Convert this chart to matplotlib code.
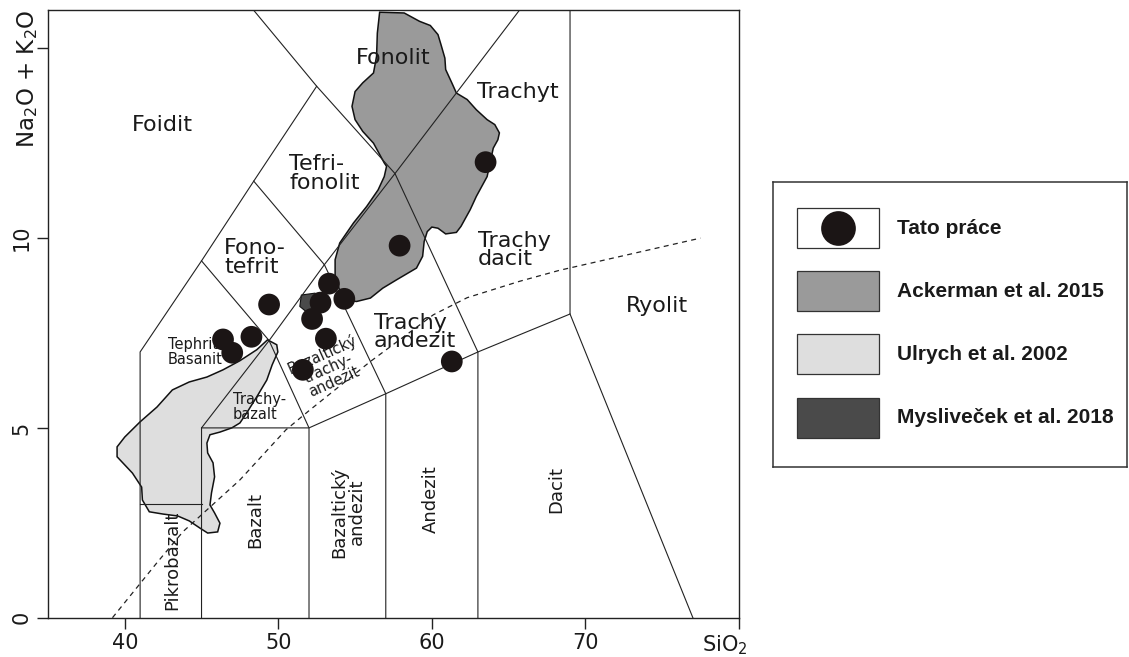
import matplotlib.pyplot as plt
from matplotlib.patches import Polygon, Rectangle
from matplotlib.transforms import blended_transform_factory

# --- data ------------------------------------------------------------------
# Tato práce (this work): SiO2 vs Na2O + K2O
sio2 = [63.5, 57.9, 49.4, 53.3, 52.75, 54.3, 52.2, 53.1, 51.6, 48.25, 46.4, 47.0, 61.3]
alkali = [12.0, 9.8, 8.25, 8.8, 8.3, 8.4, 7.87, 7.35, 6.53, 7.4, 7.33, 6.98, 6.75]

# Ackerman et al. 2015 field
ackerman_x = [56.6, 58.2, 59.2, 59.9, 60.4, 60.6, 60.85, 60.9, 61.3, 61.6, 62.3, 62.9,
              63.6, 64.1, 64.4, 64.3, 64.0, 63.6, 62.9, 62.5, 61.9, 61.6, 60.9, 60.4,
              60.0, 59.7, 59.5, 59.4, 59.0, 57.7, 56.8, 56.0, 55.1, 54.2, 53.7, 53.7,
              54.0, 54.9, 55.75, 56.5, 56.9, 57.05, 56.9, 56.2, 55.5, 55.0, 54.8, 55.0,
              55.5, 56.2, 56.4, 56.45]
ackerman_y = [15.95, 15.93, 15.71, 15.6, 15.36, 15.09, 14.74, 14.44, 14.09, 13.82, 13.65,
              13.38, 13.12, 12.99, 12.77, 12.59, 12.37, 11.62, 11.1, 10.75, 10.31, 10.15,
              10.11, 10.26, 10.29, 10.17, 9.91, 9.52, 9.21, 8.9, 8.68, 8.42, 8.33, 8.37,
              8.99, 9.43, 9.87, 10.4, 10.83, 11.27, 11.62, 11.89, 11.98, 12.5, 12.81,
              13.12, 13.47, 13.86, 14.09, 14.35, 14.79, 15.4]

# Ulrych et al. 2002 field
ulrych_x = [49.3, 49.9, 49.97, 49.6, 49.25, 48.6, 47.95, 47.5, 46.97, 46.2, 45.55, 45.35,
            45.4, 45.75, 45.85, 45.65, 45.55, 45.85, 46.2, 46.05, 45.4, 44.9, 44.2, 43.45,
            42.5, 41.6, 41.15, 41.1, 40.5, 39.5, 39.5, 40.0, 41.0, 42.1, 43.1, 44.2, 45.35,
            46.4, 47.5, 48.6]
ulrych_y = [7.32, 7.19, 7.0, 6.66, 6.26, 5.82, 5.4, 5.13, 5.0, 4.89, 4.82, 4.6, 4.34, 4.08,
            3.71, 3.29, 2.97, 2.76, 2.49, 2.26, 2.23, 2.36, 2.55, 2.68, 2.73, 2.79, 3.1, 3.44,
            3.81, 4.24, 4.5, 4.76, 5.16, 5.55, 6.0, 6.21, 6.34, 6.53, 6.77, 7.06]

# Mysliveček et al. 2018 field
myslivecek_x = [51.5, 52.4, 52.6, 52.0, 51.4]
myslivecek_y = [8.5, 8.55, 8.2, 8.0, 8.2]

# alkaline / subalkaline divide (dashed)
divide_x = [39.2, 42.1, 43.8, 47.5, 50.5, 52.05, 56.0, 60.1, 62.3, 65.7, 68.3, 77.5]
divide_y = [0.0, 1.45, 2.27, 3.63, 4.95, 5.47, 6.75, 7.98, 8.43, 8.86, 9.15, 10.0]

# TAS field boundaries
tas_lines = [
    ([41, 41, 45, 48.4, 52.5, 48.4], [0, 7, 9.4, 11.5, 14, 16]),
    ([52.5, 57.6, 63, 63], [14, 11.7, 7, 0]),
    ([41, 45], [3, 3]),
    ([45, 45, 49.4, 45], [0, 5, 7.3, 9.4]),
    ([45, 52, 57, 63, 69, 69], [5, 5, 5.9, 7, 8, 16]),
    ([52, 52, 49.4, 53, 48.4], [0, 5, 7.3, 9.3, 11.5]),
    ([53, 57.6, 65.7], [9.3, 11.7, 16]),
    ([57, 57, 53], [0, 5.9, 9.3]),
    ([69, 77], [8, 0]),
]

legend_labels = ['Tato práce', 'Ackerman et al. 2015', 'Ulrych et al. 2002',
                 'Mysliveček et al. 2018']
c_dot = '#1b1515'
c_ack = '#9a9a9a'
c_ulr = '#dedede'
c_mys = '#4a4a4a'
c_line = '#222222'

fig = plt.figure(figsize=(11.29, 6.57), dpi=100)
ax = fig.add_axes([0.0425, 0.0598, 0.6120, 0.9245])
ax.set_xlim(35, 80)
ax.set_ylim(0, 16)

# fields
ax.add_patch(Polygon(list(zip(ulrych_x, ulrych_y)), closed=True, fc=c_ulr, ec='#111111',
                     lw=1.1, zorder=1))
ax.add_patch(Polygon(list(zip(ackerman_x, ackerman_y)), closed=True, fc=c_ack, ec='#111111',
                     lw=1.1, zorder=1))
ax.add_patch(Polygon(list(zip(myslivecek_x, myslivecek_y)), closed=True, fc=c_mys,
                     ec='#111111', lw=0.8, zorder=1))

for xs, ys in tas_lines:
    ax.plot(xs, ys, color=c_line, lw=0.8, zorder=2)
ax.plot(divide_x, divide_y, color=c_line, lw=0.9, ls=(0, (4, 3.5)), zorder=2)

# field names
big = dict(fontsize=16, color='#1a1a1a', ha='center', va='center', zorder=3,
           linespacing=0.9, multialignment='left')
ax.text(42.42, 12.97, 'Foidit', **big)
ax.text(57.47, 14.74, 'Fonolit', **big)
ax.text(65.6, 13.85, 'Trachyt', **big)
ax.text(53.0, 11.7, 'Tefri-\nfonolit', **big)
ax.text(48.48, 9.49, 'Fono-\ntefrit', **big)
ax.text(65.35, 9.68, 'Trachy\ndacit', **big)
ax.text(58.9, 7.53, 'Trachy\nandezit', **big)
ax.text(74.66, 8.21, 'Ryolit', **big)

small = dict(fontsize=10.5, color='#1a1a1a', va='center', zorder=3, linespacing=0.95)
ax.text(42.8, 7.0, 'Tephrit\nBasanit', ha='left', **small)
ax.text(47.05, 5.55, 'Trachy-\nbazalt', ha='left', **small)
ax.text(53.25, 6.58, 'Bazaltický\ntrachy-\nandezit', ha='center', rotation=24,
        rotation_mode='anchor', multialignment='center', **small)

vert = dict(fontsize=13, color='#1a1a1a', ha='center', va='center', rotation=90,
            zorder=3, linespacing=0.95)
ax.text(43.07, 1.52, 'Pikrobazalt', **vert)
ax.text(48.48, 2.57, 'Bazalt', **vert)
ax.text(54.54, 2.78, 'Bazaltický\nandezit', **vert)
ax.text(59.94, 3.13, 'Andezit', **vert)
ax.text(68.08, 3.39, 'Dacit', **vert)

# samples
ax.scatter(sio2, alkali, s=245, color=c_dot, edgecolors='none', zorder=4)

# axes styling
for sp in ax.spines.values():
    sp.set_linewidth(1.0)
    sp.set_color('#222222')
ax.set_xticks([40, 50, 60, 70, 80])
ax.set_xticklabels(['40', '50', '60', '70', ''])
ax.set_yticks([0, 5, 10, 15])
ax.set_yticklabels(['0', '5', '10', ''])
ax.tick_params(direction='out', length=8, width=1.0, color='#222222', labelsize=15,
               labelcolor='#1a1a1a', pad=3)
ax.tick_params(axis='y', labelrotation=90, pad=4)
for lab in ax.get_yticklabels():
    lab.set_va('center')

ax.annotate('SiO$_2$', xy=(79.1, 0), xytext=(0, -11.5), textcoords='offset points',
            ha='center', va='top', fontsize=15, color='#1a1a1a', annotation_clip=False)
tr = blended_transform_factory(ax.transAxes, ax.transData)
ax.text(-0.030, 14.2, 'Na$_2$O + K$_2$O', transform=tr, rotation=90, ha='center',
        va='center', fontsize=16.5, color='#1a1a1a')

# legend box
lg = fig.add_axes([773 / 1129, 1 - 467 / 657, 354 / 1129, 285 / 657])
lg.set_xlim(0, 1)
lg.set_ylim(0, 1)
lg.set_xticks([])
lg.set_yticks([])
for sp in lg.spines.values():
    sp.set_linewidth(1.1)
    sp.set_color('#333333')

row_bottom = [0.768, 0.547, 0.326, 0.102]
row_fill = ['white', c_ack, c_ulr, c_mys]
for i, lab in enumerate(legend_labels):
    lg.add_patch(Rectangle((0.068, row_bottom[i]), 0.232, 0.14, fc=row_fill[i],
                           ec='#333333', lw=0.9))
    lg.text(0.350, row_bottom[i] + 0.07, lab, fontsize=15, fontweight='bold',
            family='Liberation Sans', va='center', ha='left', color='#1a1a1a')
lg.plot([0.184], [0.838], 'o', ms=25, color=c_dot, mec='none')

fig.savefig('out.png', dpi=100)
